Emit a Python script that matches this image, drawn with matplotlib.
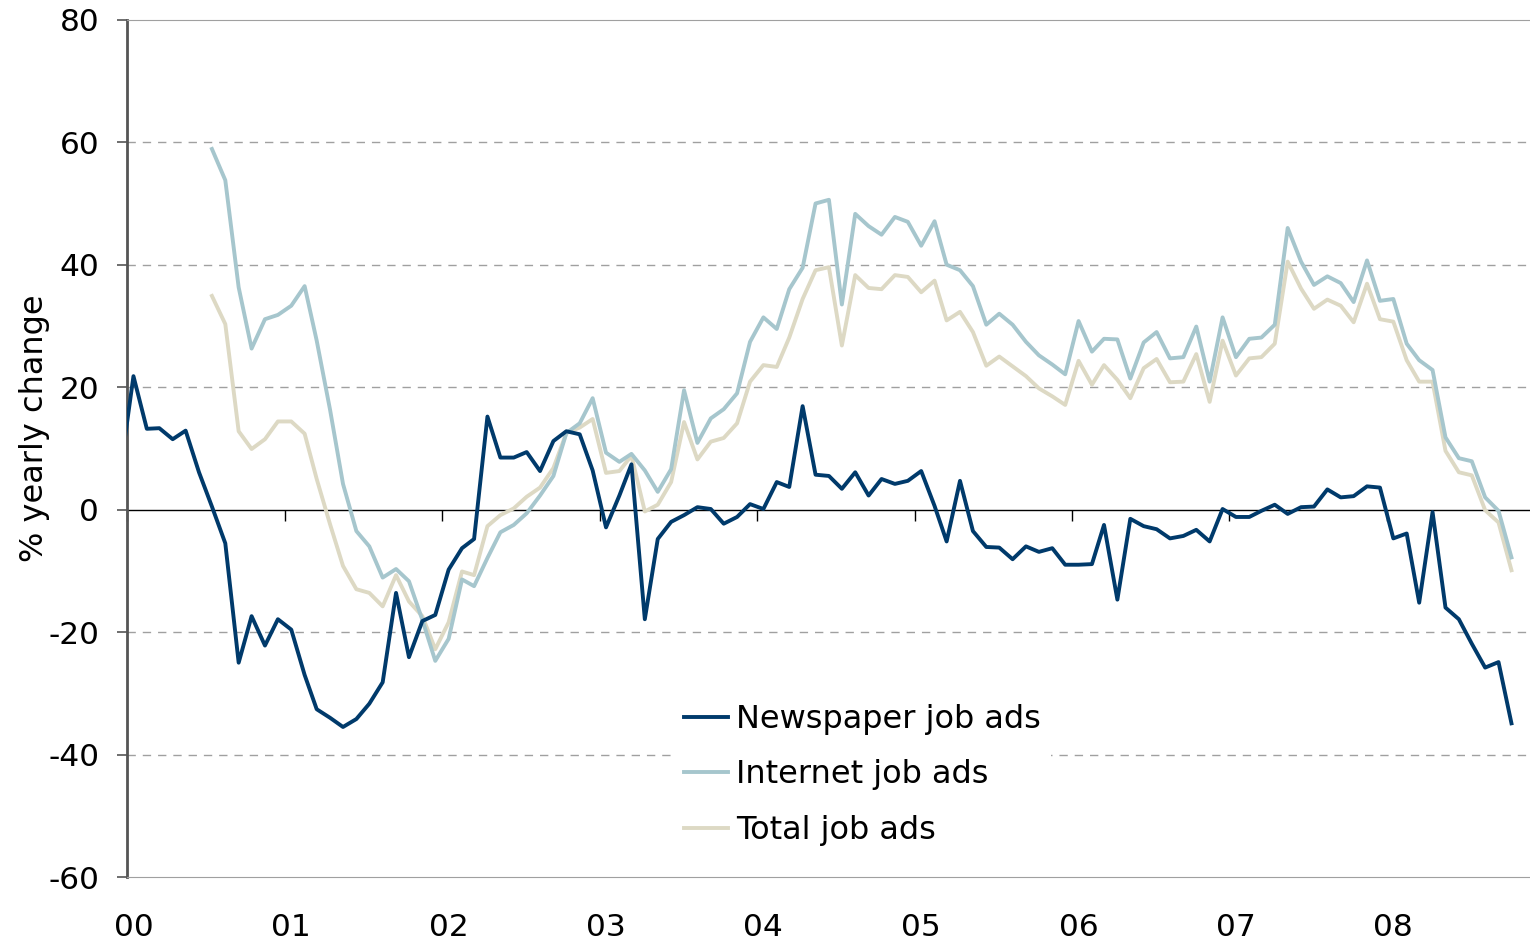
import numpy as np
import pandas as pd
import matplotlib
matplotlib.use("Agg")
import matplotlib.pyplot as plt

plt.rcParams["axes.unicode_minus"] = False

# --- Data: yearly % change, monthly ---
# newspaper series starts Dec 1999, internet / total start Jul 2000, all end Oct 2008
newspaper = [6.0,
             21.8, 13.2, 13.3, 11.5, 12.9, 6.1, 0.5, -5.5, -25.0, -17.4, -22.2, -17.9,
             -19.6, -27.0, -32.6, -34.0, -35.5, -34.2, -31.7, -28.2, -13.6, -24.1, -18.2, -17.2,
             -9.8, -6.3, -4.8, 15.2, 8.5, 8.5, 9.4, 6.3, 11.2, 12.8, 12.3, 6.4,
             -2.9, 2.3, 7.4, -17.9, -4.8, -2.0, -0.9, 0.4, 0.1, -2.3, -1.2, 0.9,
             0.1, 4.5, 3.7, 16.9, 5.7, 5.5, 3.4, 6.1, 2.3, 5.0, 4.2, 4.7,
             6.3, 0.6, -5.2, 4.7, -3.5, -6.1, -6.2, -8.1, -6.0, -6.9, -6.3, -9.0,
             -9.0, -8.9, -2.5, -14.7, -1.5, -2.7, -3.2, -4.7, -4.3, -3.3, -5.2, 0.1,
             -1.2, -1.2, -0.2, 0.8, -0.7, 0.4, 0.5, 3.3, 2.0, 2.2, 3.8, 3.6,
             -4.7, -3.9, -15.2, -0.4, -16.0, -17.9, -21.9, -25.8, -24.9, -34.9]

internet = [58.9, 53.8, 36.3, 26.3, 31.1, 31.8,
            33.3, 36.5, 27.6, 16.3, 4.2, -3.5, -6.0, -11.1, -9.7, -11.7, -18.0, -24.7,
            -21.1, -11.4, -12.5, -7.9, -3.7, -2.5, -0.6, 2.3, 5.5, 12.5, 14.1, 18.2,
            9.3, 7.8, 9.1, 6.4, 2.9, 6.6, 19.5, 10.9, 14.9, 16.4, 19.0, 27.4,
            31.4, 29.5, 36.0, 39.5, 50.0, 50.6, 33.5, 48.3, 46.3, 44.9, 47.8, 47.0,
            43.1, 47.1, 40.0, 39.1, 36.5, 30.2, 32.0, 30.2, 27.4, 25.2, 23.7, 22.1,
            30.8, 25.8, 27.9, 27.8, 21.4, 27.3, 29.0, 24.7, 24.9, 29.9, 20.9, 31.4,
            24.9, 27.9, 28.1, 30.2, 46.0, 40.5, 36.7, 38.1, 37.0, 33.9, 40.7, 34.1,
            34.4, 27.1, 24.4, 22.8, 11.8, 8.4, 7.9, 2.0, -0.2, -7.8]

total = [34.9, 30.3, 12.8, 9.9, 11.5, 14.4,
         14.4, 12.4, 5.0, -2.4, -9.2, -13.0, -13.6, -15.8, -10.7, -15.0, -17.4, -22.8,
         -18.4, -10.1, -10.7, -2.7, -0.9, 0.2, 2.1, 3.6, 6.8, 12.5, 13.4, 14.8,
         6.0, 6.3, 8.8, -0.3, 0.8, 4.5, 14.3, 8.2, 11.1, 11.7, 14.1, 20.9,
         23.6, 23.3, 28.1, 34.4, 39.1, 39.6, 26.8, 38.3, 36.2, 36.0, 38.3, 38.0,
         35.5, 37.4, 30.9, 32.3, 29.0, 23.5, 25.0, 23.4, 21.8, 19.8, 18.5, 17.1,
         24.3, 20.4, 23.6, 21.2, 18.2, 23.1, 24.6, 20.8, 20.9, 25.4, 17.6, 27.6,
         21.9, 24.7, 24.9, 27.1, 40.5, 36.1, 32.8, 34.3, 33.3, 30.6, 36.9, 31.1,
         30.7, 24.4, 20.9, 20.9, 9.6, 6.1, 5.6, -0.1, -2.1, -9.9]

year_labels = ["00", "01", "02", "03", "04", "05", "06", "07", "08"]

# monthly points plotted mid-month
mid = pd.Timedelta(days=15)
dates_news = pd.date_range("1999-12-01", periods=len(newspaper), freq="MS") + mid
dates_net = pd.date_range("2000-07-01", periods=len(internet), freq="MS") + mid

c_news = "#003a6b"
c_net = "#a6c6cd"
c_tot = "#ddd9c4"

fig = plt.figure(figsize=(15.3, 9.42), dpi=100)
ax = fig.add_axes([0.083, 0.069, 0.917, 0.91])

ax.plot(dates_net, total, color=c_tot, lw=2.8, label="Total job ads", zorder=3)
ax.plot(dates_net, internet, color=c_net, lw=2.8, label="Internet job ads", zorder=4)
ax.plot(dates_news, newspaper, color=c_news, lw=2.8, label="Newspaper job ads", zorder=5)

ax.set_ylim(-60, 80)
ax.set_yticks(np.arange(-60, 81, 20))
ax.set_xlim(pd.Timestamp("2000-01-01"), pd.Timestamp("2008-11-28"))

# dashed gridlines
for v in [-40, -20, 20, 40, 60]:
    ax.axhline(v, color="#a0a0a0", lw=1.0, ls=(0, (6, 5)), zorder=1)

# year labels at the bottom (centered on January points)
years = pd.date_range("2000-01-01", periods=len(year_labels), freq="YS")
ax.set_xticks(years + mid)
ax.set_xticklabels(year_labels)
ax.tick_params(axis="x", length=0, pad=26, labelsize=22.5)
ax.tick_params(axis="y", direction="out", length=7, width=1.2, color="#555555",
               labelsize=22.5, pad=13)

# zero line with year ticks pointing down
zero_ax = ax.secondary_xaxis(60 / 140)
zero_ax.set_xticks(years)
zero_ax.set_xticklabels([])
zero_ax.spines["bottom"].set_color("black")
zero_ax.spines["bottom"].set_linewidth(1.0)
zero_ax.tick_params(axis="x", direction="out", length=8, width=1.0, color="black")

ax.spines["left"].set_color("#555555")
ax.spines["left"].set_linewidth(2.0)
ax.spines["top"].set_color("#a0a0a0")
ax.spines["bottom"].set_color("#a0a0a0")
ax.spines["right"].set_visible(False)

ax.set_ylabel("% yearly change", fontsize=23)
ax.yaxis.set_label_coords(-0.055, 0.523)

handles, labels = ax.get_legend_handles_labels()
order = [2, 1, 0]
leg = ax.legend([handles[i] for i in order], [labels[i] for i in order],
                loc="upper left", bbox_to_anchor=(0.379, 0.232), fontsize=23,
                frameon=True, facecolor="white", edgecolor="none", framealpha=1.0,
                handlelength=1.38, handletextpad=0.25, labelspacing=0.77, borderpad=0.3)
leg.set_zorder(6)

fig.savefig("out.png", dpi=100)
